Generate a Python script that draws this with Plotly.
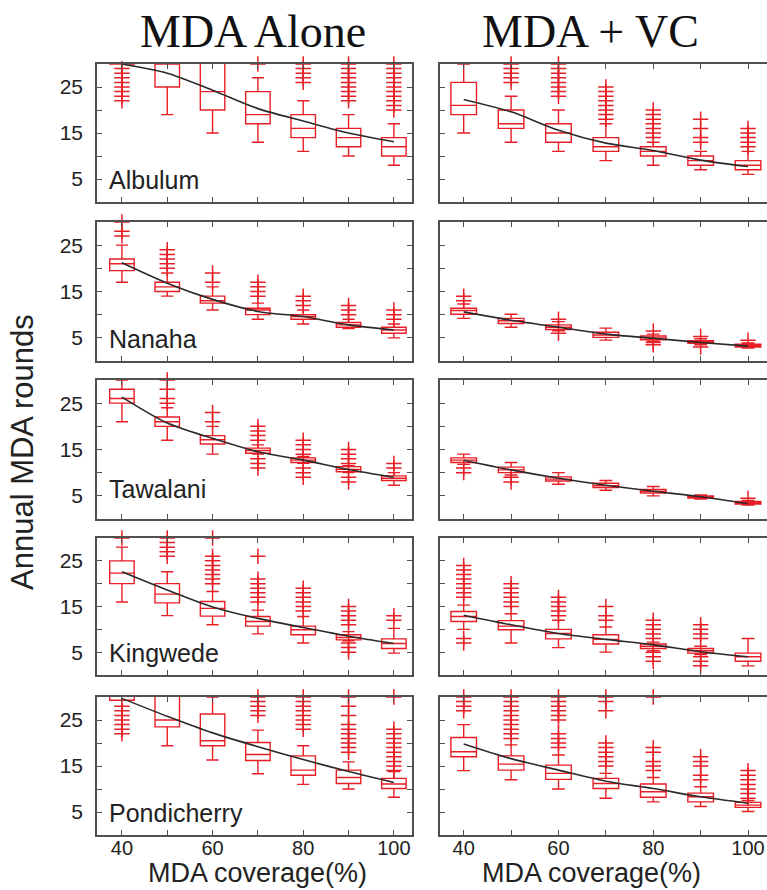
import plotly.graph_objects as go

# ---------------- data ----------------
COVERAGE = [40, 50, 60, 70, 80, 90, 100]
SITES = ["Albulum", "Nanaha", "Tawalani", "Kingwede", "Pondicherry"]
STRATEGIES = ["MDA Alone", "MDA + VC"]
X_TICKS = [40, 50, 60, 70, 80, 90, 100]
X_TICK_TEXT = ["40", "", "60", "", "80", "", "100"]
Y_TICKS = [5, 10, 15, 20, 25, 30]
Y_TICK_TEXT = ["5", "", "15", "", "25", ""]
X_LABEL = "MDA coverage(%)"
Y_LABEL = "Annual MDA rounds"

# Albulum - MDA alone
ALB_A_LOW = [30, 19, 15, 13, 11, 10, 8]
ALB_A_Q1 = [30, 25, 20, 17, 14, 12, 10]
ALB_A_MED = [31, 30, 24, 19, 16, 14, 12]
ALB_A_Q3 = [33, 33, 31, 24, 19, 16, 14]
ALB_A_HIGH = [34, 34, 34, 27, 22, 19, 17]
ALB_A_TREND = [30, 28, 24.3, 20.3, 17.6, 15, 13.1]
ALB_A_OUT = [[22, 23, 24, 25, 26, 27, 28, 29], [], [], [30],
             [26, 27, 28, 29, 30], [22, 23, 24, 25, 26, 27, 28, 29, 30],
             [20, 21, 22, 23, 24, 25, 26, 27, 28, 29, 30]]
# Albulum - MDA + VC
ALB_V_LOW = [15, 13, 11, 9, 8, 7, 6]
ALB_V_Q1 = [19, 16, 13, 11, 10, 8, 7]
ALB_V_MED = [21, 17, 15, 12, 11, 9, 8]
ALB_V_Q3 = [26, 20, 17, 14, 12, 10, 9]
ALB_V_HIGH = [30, 23, 20, 17, 13, 11, 11]
ALB_V_TREND = [22.3, 19.6, 15.6, 12.8, 11.2, 9.1, 7.7]
ALB_V_OUT = [[], [26, 27, 28, 29, 30], [23, 24, 25, 26, 27, 28, 29, 30],
             [18, 19, 20, 21, 22, 23, 24, 25], [14, 15, 16, 17, 18, 19, 20],
             [13, 14, 16, 18], [12, 13, 14, 15, 16]]
# Nanaha - MDA alone
NAN_A_LOW = [17, 14, 11, 9, 8, 7, 5]
NAN_A_Q1 = [19.5, 15, 12.5, 10, 9, 7.3, 6]
NAN_A_MED = [21, 16, 13, 11, 9.6, 7.8, 6.7]
NAN_A_Q3 = [22, 17, 14, 11.4, 10, 8.3, 7.3]
NAN_A_HIGH = [25, 19, 16, 12.5, 11, 9, 8]
NAN_A_TREND = [21.2, 16.8, 13.3, 10.7, 9.6, 7.8, 6.7]
NAN_A_OUT = [[27, 28, 30], [20, 21, 22, 23, 24], [17, 19], [14, 15, 16, 17],
             [12, 13, 14], [10, 11, 12], [9, 10, 11]]
# Nanaha - MDA + VC
NAN_V_LOW = [9.2, 7.3, 6.5, 4.5, 4.2, 3.5, 2.8]
NAN_V_Q1 = [10.1, 8.1, 6.8, 5.1, 4.6, 3.8, 3]
NAN_V_MED = [10.9, 8.7, 7.3, 5.6, 5, 4.1, 3.3]
NAN_V_Q3 = [11.4, 9.2, 7.8, 6.2, 5.4, 4.4, 3.6]
NAN_V_HIGH = [12.3, 10.1, 8.5, 7.1, 5.8, 4.8, 3.9]
NAN_V_TREND = [10.6, 8.8, 7.3, 5.8, 4.9, 4, 3.2]
NAN_V_OUT = [[13, 14], [], [9, 6], [], [6.5, 4, 3.5], [5.3, 3], [4.5]]
# Tawalani - MDA alone
TAW_A_LOW = [21, 17, 14, 14, 12, 10, 7.3]
TAW_A_Q1 = [25, 20, 16.2, 14.2, 12.2, 10.2, 8.3]
TAW_A_MED = [26, 21, 17.1, 14.8, 12.7, 10.7, 8.8]
TAW_A_Q3 = [28, 22, 18, 15.3, 13.2, 11.3, 9.3]
TAW_A_HIGH = [30, 24, 20, 16, 13.5, 11.5, 10]
TAW_A_TREND = [26.3, 20.7, 17.4, 14.5, 12.7, 10.7, 9]
TAW_A_OUT = [[], [25, 26, 28, 30], [21, 23], [17, 18, 19, 20, 13, 12, 11],
             [14, 15, 16, 17, 11, 10, 9], [12, 13, 14, 15, 9, 8], [11, 12]]
# Tawalani - MDA + VC
TAW_V_LOW = [11.8, 9.5, 7.5, 6.2, 5, 4.3, 3]
TAW_V_Q1 = [12.2, 10, 8.2, 6.8, 5.6, 4.5, 3.2]
TAW_V_MED = [12.7, 10.6, 8.6, 7.2, 6, 4.7, 3.5]
TAW_V_Q3 = [13.2, 11.2, 9.1, 7.7, 6.4, 5, 3.8]
TAW_V_HIGH = [14, 12.2, 10, 8.3, 7, 5.2, 4]
TAW_V_TREND = [12.7, 10.6, 8.8, 7.3, 6, 4.8, 3.3]
TAW_V_OUT = [[11, 10], [9, 8], [], [], [], [], [4.5]]
# Kingwede - MDA alone
KIN_A_LOW = [16, 13, 11, 9, 7, 7.5, 4.8]
KIN_A_Q1 = [20, 15.8, 12.9, 10.7, 8.8, 7.7, 5.8]
KIN_A_MED = [22.3, 17.7, 14.6, 11.7, 9.9, 8.2, 6.9]
KIN_A_Q3 = [25, 20, 16.1, 12.8, 10.7, 8.8, 7.9]
KIN_A_HIGH = [28, 22.6, 18.3, 14.2, 12.8, 9.5, 10.2]
KIN_A_TREND = [22.6, 18.6, 14.9, 12.4, 10.4, 8.5, 6.9]
KIN_A_OUT = [[30], [26, 27, 28, 29, 30], [20, 21, 22, 23, 24, 25, 26, 30],
             [16, 17, 18, 19, 20, 21, 26], [14, 15, 16, 17, 18, 19],
             [11, 12, 13, 14, 15, 7, 6, 5], [12, 13]]
# Kingwede - MDA + VC
KIN_V_LOW = [10, 7, 6, 5, 5.3, 4.5, 2]
KIN_V_Q1 = [11.7, 9.9, 7.9, 6.8, 5.8, 4.8, 3]
KIN_V_MED = [12.8, 10.7, 9.1, 7.8, 6.3, 5.3, 4]
KIN_V_Q3 = [13.9, 11.9, 10, 8.8, 6.8, 5.8, 4.8]
KIN_V_HIGH = [15.3, 13.4, 12, 10.5, 7.2, 6.3, 8]
KIN_V_TREND = [13.1, 11, 9.1, 7.8, 6.6, 5.1, 4]
KIN_V_OUT = [[17, 18, 19, 20, 21, 22, 23, 24, 8, 7], [15, 16, 17, 18, 19, 20],
             [13, 14, 15, 16, 17], [12, 13, 15], [8, 9, 10, 11, 12, 5, 4, 3],
             [8, 9, 10, 11, 4, 3, 2], []]
# Pondicherry - MDA alone
PON_A_LOW = [29.3, 19.4, 16.3, 13.3, 11, 10, 8.2]
PON_A_Q1 = [29.3, 23.5, 19.4, 16.2, 13, 11.2, 10.1]
PON_A_MED = [31, 25, 20.5, 17.5, 14.1, 12.5, 11.1]
PON_A_Q3 = [33, 31, 26.3, 20.1, 17.2, 14.1, 12.3]
PON_A_HIGH = [34, 34, 30, 22.8, 19.4, 15.9, 13.8]
PON_A_TREND = [29.7, 25.8, 22.2, 19.2, 16.4, 13.8, 11.4]
PON_A_OUT = [[22, 23, 24, 25, 26, 27, 28], [], [], [26, 27, 28, 29, 30],
             [23, 24, 25, 26, 27, 28, 29, 30],
             [18, 19, 20, 21, 22, 23, 24, 26, 28, 30],
             [14, 15, 16, 17, 18, 19, 20, 21, 22, 23, 30]]
# Pondicherry - MDA + VC
PON_V_LOW = [14, 12, 10, 8, 7.2, 6.2, 5.1]
PON_V_Q1 = [17, 14.1, 12.1, 10.1, 8.2, 7.2, 6]
PON_V_MED = [18.1, 15.4, 13.4, 11.2, 9.4, 8.3, 6.5]
PON_V_Q3 = [21.2, 17.2, 15.2, 12.3, 11.1, 9.1, 7.1]
PON_V_HIGH = [24, 19.6, 17.4, 13.4, 12.5, 10.5, 7.5]
PON_V_TREND = [19.8, 16.6, 14.1, 11.7, 10.1, 8.3, 6.9]
PON_V_OUT = [[27, 28, 29, 30], [21, 22, 23, 24, 25, 26, 27, 28, 29, 30],
             [19, 20, 21, 22, 25, 26, 27, 28, 29, 30],
             [15, 16, 17, 18, 19, 20, 27, 29, 30], [14, 15, 16, 18, 19, 30],
             [12, 13, 15, 16, 17], [8, 9, 10, 11, 12, 13, 14]]

PANELS = [
    [(ALB_A_LOW, ALB_A_Q1, ALB_A_MED, ALB_A_Q3, ALB_A_HIGH, ALB_A_TREND, ALB_A_OUT),
     (ALB_V_LOW, ALB_V_Q1, ALB_V_MED, ALB_V_Q3, ALB_V_HIGH, ALB_V_TREND, ALB_V_OUT)],
    [(NAN_A_LOW, NAN_A_Q1, NAN_A_MED, NAN_A_Q3, NAN_A_HIGH, NAN_A_TREND, NAN_A_OUT),
     (NAN_V_LOW, NAN_V_Q1, NAN_V_MED, NAN_V_Q3, NAN_V_HIGH, NAN_V_TREND, NAN_V_OUT)],
    [(TAW_A_LOW, TAW_A_Q1, TAW_A_MED, TAW_A_Q3, TAW_A_HIGH, TAW_A_TREND, TAW_A_OUT),
     (TAW_V_LOW, TAW_V_Q1, TAW_V_MED, TAW_V_Q3, TAW_V_HIGH, TAW_V_TREND, TAW_V_OUT)],
    [(KIN_A_LOW, KIN_A_Q1, KIN_A_MED, KIN_A_Q3, KIN_A_HIGH, KIN_A_TREND, KIN_A_OUT),
     (KIN_V_LOW, KIN_V_Q1, KIN_V_MED, KIN_V_Q3, KIN_V_HIGH, KIN_V_TREND, KIN_V_OUT)],
    [(PON_A_LOW, PON_A_Q1, PON_A_MED, PON_A_Q3, PON_A_HIGH, PON_A_TREND, PON_A_OUT),
     (PON_V_LOW, PON_V_Q1, PON_V_MED, PON_V_Q3, PON_V_HIGH, PON_V_TREND, PON_V_OUT)],
]

# ---------------- styling / layout ----------------
W, H = 767, 890
RED = "rgb(232,30,38)"
FRAME = "#505050"
SANS = "Liberation Sans, Arial, sans-serif"
COL_PX = [(97, 412), (440, 767)]
COL_RANGE = [(34.5, 104.0), (35.0, 104.0)]
ROW_PX = [(64, 202), (222, 361), (380, 519), (538, 675), (697, 835)]
LABEL_Y = [4.8, 4.8, 6.4, 4.8, 4.8]

fig = go.Figure()
layout = dict(
    width=W, height=H, margin=dict(l=0, r=0, t=0, b=0),
    paper_bgcolor="white", plot_bgcolor="white", showlegend=False,
    font=dict(family=SANS, color="#222"),
)

for r in range(5):
    for c in range(2):
        k = r * 2 + c + 1
        xs = "" if k == 1 else str(k)
        low, q1, med, q3, high, trend, outs = PANELS[r][c]
        fig.add_trace(go.Box(
            x=COVERAGE, q1=q1, median=med, q3=q3, lowerfence=low, upperfence=high,
            width=5.4, whiskerwidth=0.5, boxpoints=False,
            line=dict(color=RED, width=1.4), fillcolor="rgba(0,0,0,0)",
            xaxis="x" + xs, yaxis="y" + xs, hoverinfo="skip"))
        ox, oy = [], []
        for xv, vals in zip(COVERAGE, outs):
            for v in vals:
                ox.append(xv)
                oy.append(v)
        fig.add_trace(go.Scatter(
            x=ox, y=oy, mode="markers", cliponaxis=False,
            marker=dict(symbol="cross-thin", size=11, line=dict(color=RED, width=1.5)),
            xaxis="x" + xs, yaxis="y" + xs, hoverinfo="skip"))
        fig.add_trace(go.Scatter(
            x=COVERAGE, y=trend, mode="lines",
            line=dict(color="#2a2a2a", width=1.6, shape="spline", smoothing=0.8),
            xaxis="x" + xs, yaxis="y" + xs, hoverinfo="skip"))

        x0, x1 = COL_PX[c]
        y0, y1 = ROW_PX[r]
        layout["xaxis" + xs] = dict(
            domain=[x0 / W, x1 / W], anchor="y" + xs, range=list(COL_RANGE[c]),
            tickvals=X_TICKS, ticktext=X_TICK_TEXT, showticklabels=(r == 4),
            ticks="inside", ticklen=5, tickcolor=FRAME, showline=True,
            linecolor=FRAME, linewidth=1.5, mirror="ticks", showgrid=False,
            zeroline=False, ticklabelstandoff=-6,
            tickfont=dict(size=20, family=SANS, color="#222"),
            fixedrange=True)
        layout["yaxis" + xs] = dict(
            domain=[1 - y1 / H, 1 - y0 / H], anchor="x" + xs, range=[0, 30],
            tickvals=Y_TICKS, ticktext=Y_TICK_TEXT, showticklabels=(c == 0),
            ticks="inside", ticklen=5, tickcolor=FRAME, showline=True,
            linecolor=FRAME, linewidth=1.5, mirror=("ticks" if c == 0 else False),
            showgrid=False, zeroline=False, ticklabelstandoff=8,
            tickfont=dict(size=21, family=SANS, color="#222"), fixedrange=True)

annotations = []
for r, site in enumerate(SITES):
    annotations.append(dict(
        text=site, xref="x" if r == 0 else f"x{r * 2 + 1}",
        yref="y" if r == 0 else f"y{r * 2 + 1}", x=36.8, y=LABEL_Y[r],
        xanchor="left", yanchor="middle", showarrow=False,
        font=dict(size=25, family=SANS, color="#222")))
for c, name in enumerate(STRATEGIES):
    annotations.append(dict(
        text=name, xref="paper", yref="paper", x=[253, 590][c] / W, y=1 - 31 / H,
        xanchor="center", yanchor="middle", showarrow=False,
        font=dict(size=46, family="Liberation Serif, Times New Roman, serif", color="#111")))
    annotations.append(dict(
        text=X_LABEL, xref="paper", yref="paper", x=[257, 591][c] / W, y=1 - 873 / H,
        xanchor="center", yanchor="middle", showarrow=False,
        font=dict(size=27, family=SANS, color="#222")))
annotations.append(dict(
    text=Y_LABEL, xref="paper", yref="paper", x=22 / W, y=1 - 452 / H,
    xanchor="center", yanchor="middle", textangle=-90, showarrow=False,
    font=dict(size=31, family=SANS, color="#222")))
layout["annotations"] = annotations

fig.update_layout(**layout)
fig.write_html("out.html")
